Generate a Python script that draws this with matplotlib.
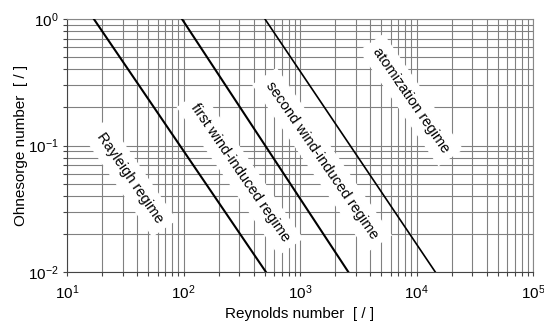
import matplotlib
matplotlib.use("Agg")
from matplotlib import pyplot as plt
from matplotlib.ticker import LogLocator, NullFormatter

plt.rcParams['font.family'] = ['Liberation Sans', 'DejaVu Sans']
plt.rcParams['mathtext.fontset'] = 'custom'
plt.rcParams['mathtext.rm'] = 'Liberation Sans'

# regime boundaries: Reynolds number at Oh = 1 and at Oh = 0.01
boundary_re_top = [17, 97, 500]
boundary_re_bottom = [510, 2600, 14500]
boundary_oh = [1.0, 0.01]
boundary_lw = [1.5, 1.5, 1.2]

regime_names = ["Rayleigh regime", "first wind-induced regime",
                "second wind-induced regime", "atomization regime"]
regime_re = [34.7, 305, 1545, 8980]
regime_oh = [0.0553, 0.0607, 0.0768, 0.229]

fig = plt.figure(figsize=(5.44, 3.27), dpi=100)
ax = fig.add_axes([67 / 544, 1 - 272 / 327, 466 / 544, 253 / 327])
ax.set_xscale('log')
ax.set_yscale('log')
ax.set_xlim(10, 1e5)
ax.set_ylim(0.01, 1)

ax.xaxis.set_minor_locator(LogLocator(base=10, subs=range(2, 10)))
ax.yaxis.set_minor_locator(LogLocator(base=10, subs=range(2, 10)))
ax.xaxis.set_minor_formatter(NullFormatter())
ax.yaxis.set_minor_formatter(NullFormatter())

ax.grid(True, which='both', color='#808080', lw=0.8, zorder=0)
ax.set_axisbelow(True)

for top, bottom, lw in zip(boundary_re_top, boundary_re_bottom, boundary_lw):
    ax.plot([top, bottom], boundary_oh, color='black', lw=lw, zorder=4)

for name, x, y in zip(regime_names, regime_re, regime_oh):
    ax.text(x, y, name, rotation=-55.5, rotation_mode='anchor',
            ha='center', va='center', fontsize=10.5, zorder=3,
            bbox=dict(boxstyle='square,pad=0.55', fc='white', ec='none'))

ax.tick_params(which='both', direction='out', length=3, width=0.8,
               color='#444444', labelsize=11)
ax.tick_params(axis='x', pad=5)
ax.tick_params(axis='y', pad=3)
for side in ['left', 'bottom']:
    ax.spines[side].set_color('#444444')
for side in ['right', 'top']:
    ax.spines[side].set_color('#888888')

ax.set_xlabel("Reynolds number  [ / ]", fontsize=11, labelpad=4)
ax.set_ylabel("Ohnesorge number  [ / ]", fontsize=11, labelpad=0)

fig.savefig("out.png", dpi=100)
